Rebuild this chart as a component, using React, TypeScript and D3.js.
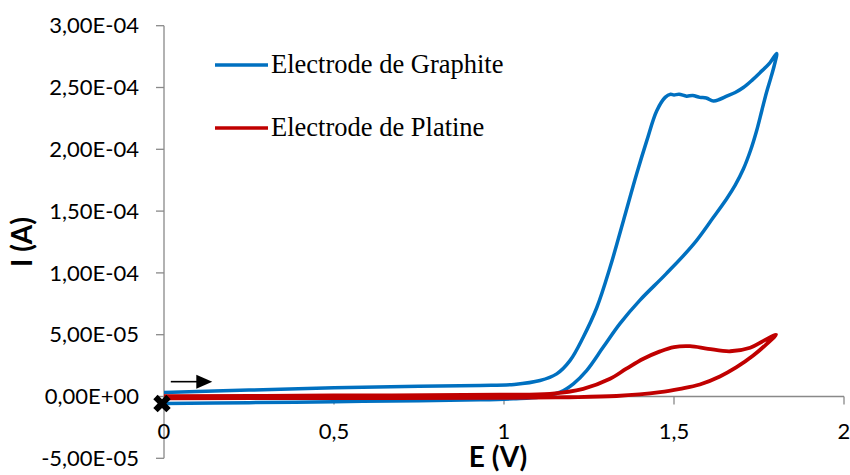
import React from "react";
import * as d3 from "d3";

// Graphite electrode: forward (anodic) scan then reverse scan, [E (V), I (A)]
const graphiteForward: [number, number][] = [
  [0, 3.2e-6], [0.25, 5.2e-6], [0.5, 7.0e-6], [0.75, 8.2e-6], [0.93, 9.0e-6],
  [1.03, 9.8e-6], [1.106, 1.29e-5], [1.155, 1.83e-5], [1.194, 2.9e-5],
  [1.233, 4.8e-5], [1.273, 7.2e-5], [1.312, 1.045e-4], [1.351, 1.42e-4],
  [1.39, 1.8e-4], [1.42, 2.07e-4], [1.449, 2.31e-4], [1.474, 2.42e-4],
  [1.49, 2.445e-4], [1.5, 2.44e-4], [1.515, 2.445e-4], [1.537, 2.43e-4],
  [1.555, 2.435e-4], [1.576, 2.42e-4], [1.595, 2.415e-4], [1.616, 2.39e-4],
  [1.635, 2.405e-4], [1.655, 2.43e-4], [1.68, 2.46e-4], [1.704, 2.5e-4],
  [1.73, 2.56e-4], [1.753, 2.62e-4], [1.782, 2.7e-4], [1.802, 2.775e-4],
];
const graphiteReverse: [number, number][] = [
  [1.802, 2.775e-4], [1.795, 2.68e-4], [1.785, 2.58e-4], [1.772, 2.46e-4],
  [1.758, 2.31e-4], [1.743, 2.15e-4], [1.725, 1.99e-4], [1.704, 1.84e-4],
  [1.68, 1.71e-4], [1.655, 1.6e-4], [1.616, 1.45e-4], [1.557, 1.23e-4],
  [1.476, 9.9e-5], [1.4, 7.8e-5], [1.341, 5.9e-5], [1.292, 4.0e-5],
  [1.243, 2.1e-5], [1.204, 1.03e-5], [1.165, 3.5e-6], [1.106, -0.5e-6],
  [1.027, -1.9e-6], [0.93, -2.7e-6], [0.75, -3.4e-6], [0.5, -4.2e-6],
  [0.25, -5.0e-6], [0, -5.7e-6],
];

// Platinum electrode
const platineForward: [number, number][] = [
  [0, 0.3e-6], [0.5, 0.8e-6], [0.988, 1.5e-6], [1.135, 2.2e-6], [1.233, 6.2e-6],
  [1.312, 1.43e-5], [1.36, 2.25e-5], [1.41, 3.05e-5], [1.459, 3.65e-5],
  [1.5, 4.0e-5], [1.547, 4.07e-5], [1.6, 3.86e-5], [1.665, 3.66e-5],
  [1.724, 3.95e-5], [1.763, 4.5e-5], [1.8, 5.0e-5],
];
const platineReverse: [number, number][] = [
  [1.8, 5.0e-5], [1.773, 4.26e-5], [1.733, 3.31e-5], [1.684, 2.37e-5],
  [1.635, 1.62e-5], [1.576, 9.7e-6], [1.518, 6.2e-6], [1.459, 3.5e-6],
  [1.331, 0.4e-6], [1.184, -0.6e-6], [0.988, -1.1e-6], [0.5, -1.3e-6], [0, -1.5e-6],
];

const seriesNames = ["Electrode de Graphite", "Electrode de Platine"];
const seriesColors = ["#0070C0", "#C00000"];
const xTicks = [0, 0.5, 1, 1.5, 2];
const yTicks = [-5e-5, 0, 5e-5, 1e-4, 1.5e-4, 2e-4, 2.5e-4, 3e-4];
const startPoint: [number, number] = [0, -5.7e-6];
const xTitle = "E (V)";
const yTitle = "I (A)";

function fmtSci(v: number): string {
  if (v === 0) return "0,00E+00";
  const exp = Math.floor(Math.log10(Math.abs(v)) + 1e-9);
  const mant = v / Math.pow(10, exp);
  const sign = exp < 0 ? "-" : "+";
  const e = String(Math.abs(exp)).padStart(2, "0");
  return mant.toFixed(2).replace(".", ",") + "E" + sign + e;
}
const fmtX = (v: number) => String(v).replace(".", ",");

export default function App() {
  const W = 850, H = 475;
  const x = d3.scaleLinear().domain([0, 2]).range([164, 844]);
  const y = d3.scaleLinear().domain([-5e-5, 3e-4]).range([458.3, 25.7]);
  const line = d3
    .line<[number, number]>()
    .x((d) => x(d[0]))
    .y((d) => y(d[1]))
    .curve(d3.curveCatmullRom.alpha(0.5));

  const axisColor = "#898989";
  const tickFont = "Lato, 'Open Sans', sans-serif";
  const cross = d3.symbol().type(d3.symbolCross).size(190)();
  const arrowY = y(1.2e-5);

  return (
    <svg width={W} height={H} style={{ position: "absolute", left: 0, top: 0, background: "#fff" }}>
      {/* axes */}
      <line x1={x(0)} x2={x(0)} y1={y(3e-4)} y2={y(-5e-5)} stroke={axisColor} strokeWidth={1.3} />
      <line x1={x(0)} x2={x(2)} y1={y(0)} y2={y(0)} stroke={axisColor} strokeWidth={1.3} />
      {yTicks.map((t) => (
        <g key={"y" + t}>
          <line x1={x(0) - 8} x2={x(0)} y1={y(t)} y2={y(t)} stroke={axisColor} strokeWidth={1.3} />
          <text x={139} y={y(t)} dy="0.35em" textAnchor="end" fontFamily={tickFont} fontSize={22} fill="#000">
            {fmtSci(t)}
          </text>
        </g>
      ))}
      {xTicks.map((t) => (
        <g key={"x" + t}>
          <line x1={x(t)} x2={x(t)} y1={y(0)} y2={y(0) + 8} stroke={axisColor} strokeWidth={1.3} />
          <text x={x(t)} y={431} dy="0.35em" textAnchor="middle" fontFamily={tickFont} fontSize={22} fill="#000">
            {fmtX(t)}
          </text>
        </g>
      ))}
      {/* titles */}
      <text x={498} y={467} textAnchor="middle" fontFamily={tickFont} fontWeight="bold" fontSize={28}>
        {xTitle}
      </text>
      <text transform={`translate(22,242) rotate(-90)`} dy="0.35em" textAnchor="middle" fontFamily={tickFont} fontWeight="bold" fontSize={28}>
        {yTitle}
      </text>
      {/* series: forward and reverse scans drawn as one loop each */}
      <path d={line([...graphiteForward, ...graphiteReverse.slice(1)]) || ""} fill="none" stroke={seriesColors[0]} strokeWidth={3.5} strokeLinejoin="round" />
      <path d={line([...platineForward, ...platineReverse.slice(1)]) || ""} fill="none" stroke={seriesColors[1]} strokeWidth={3.8} strokeLinejoin="round" />
      {/* start marker and direction arrow */}
      <path d={cross || ""} transform={`translate(${x(startPoint[0]) - 2},${y(startPoint[1])}) rotate(45)`} fill="#000" />
      <line x1={x(0.02)} x2={x(0.1)} y1={arrowY} y2={arrowY} stroke="#000" strokeWidth={1.6} />
      <path d={`M${x(0.095)},${arrowY - 7}L${x(0.142)},${arrowY}L${x(0.095)},${arrowY + 7}Z`} fill="#000" />
      {/* legend */}
      {seriesNames.map((n, i) => (
        <g key={n}>
          <line x1={215} x2={268} y1={65 + i * 63} y2={65 + i * 63} stroke={seriesColors[i]} strokeWidth={3.5} />
          <text x={271} y={73 + i * 63} fontFamily="'Liberation Serif', serif" fontSize={26.5} fill="#000">
            {n}
          </text>
        </g>
      ))}
    </svg>
  );
}
